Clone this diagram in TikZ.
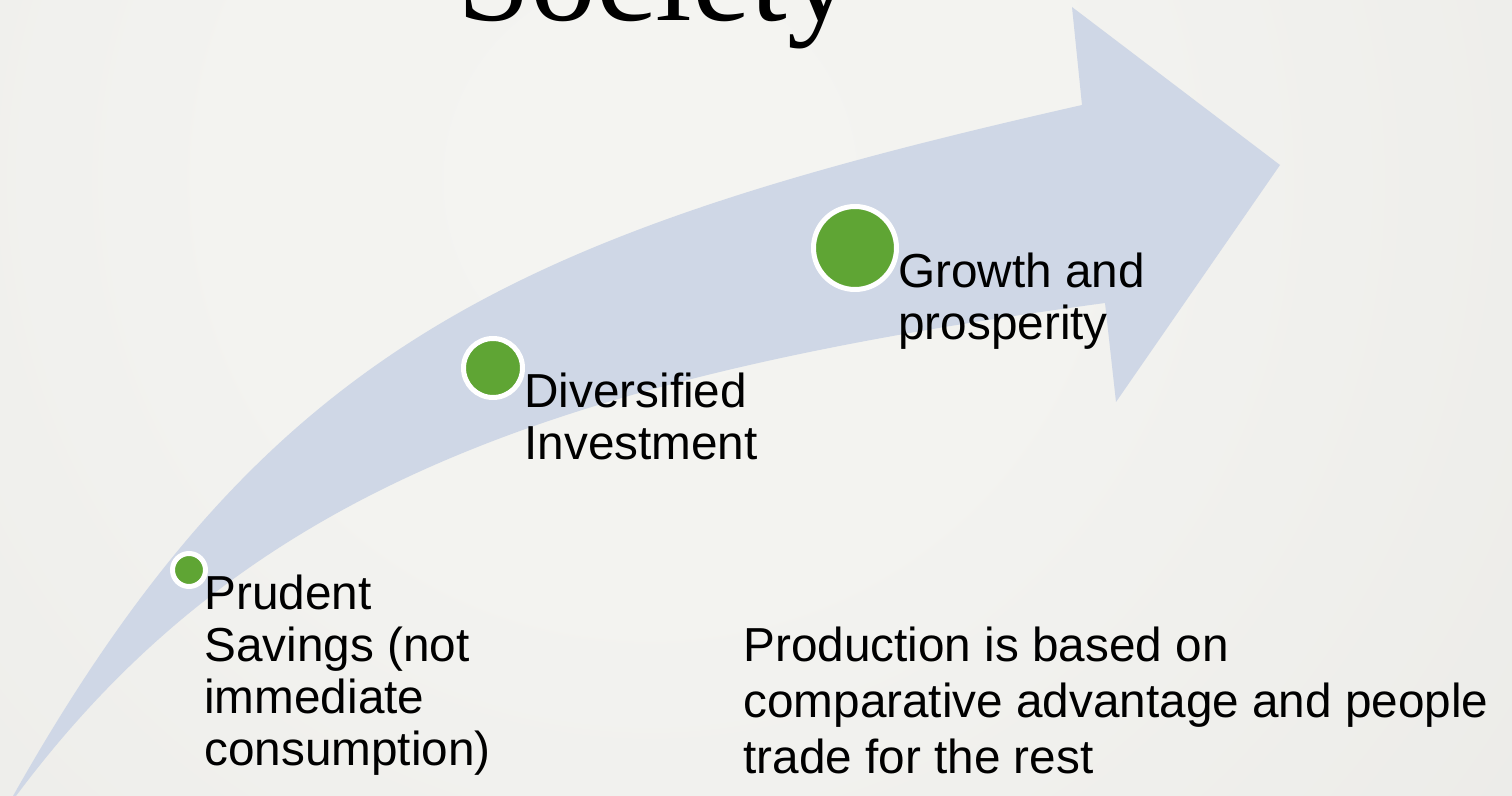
\documentclass[tikz,border=0pt]{standalone}
\usepackage{fontspec}
\setmainfont{Liberation Sans}
\newfontfamily\titlefont{Liberation Serif}
\definecolor{arrowblue}{HTML}{CFD7E6}
\definecolor{dotgreen}{HTML}{5FA534}
\definecolor{bgcenter}{HTML}{F4F4F1}
\definecolor{bginner}{HTML}{F3F3F0}
\definecolor{bgedge}{HTML}{DCDBD7}
\pgfdeclareradialshading{slidebg}{\pgfpoint{0bp}{0bp}}{color(0bp)=(bgcenter); color(8bp)=(bginner); color(50bp)=(bgedge)}
\newcommand\stacklines[1]{\begin{tabular}[t]{@{}l@{}}#1\end{tabular}}
\tikzset{
  dot/.style={circle, fill=dotgreen, draw=white, line width=2.5pt, inner sep=0pt},
  txt/.style={anchor=base west, inner sep=0pt, text=black, font=\fontsize{23.85pt}{26pt}\selectfont},
  txtwide/.style={txt, font=\fontsize{23.85pt}{28pt}\selectfont}
}
\begin{document}
\begin{tikzpicture}[x=0.5pt, y=-0.5pt]
  \useasboundingbox (0,0) rectangle (1512,796);
  \clip (0,0) rectangle (1512,796);
  % slide background
  \shade[shading=slidebg] (650,180) circle (650pt);
  % curved progress arrow
  \fill[arrowblue] (13,796) .. controls (268,344) and (517,233) .. (1082,105)
    -- (1072,7) -- (1280,165) -- (1116,402) -- (1105,303)
    .. controls (550,378) and (243,492) .. (16,796) -- cycle;
  % title, cut off at the top edge
  \node[anchor=base west, inner sep=0pt, font=\titlefont\fontsize{66pt}{72pt}\selectfont] (title) at (457,21) {Society};
  % milestones
  \node[dot, minimum size=16.5pt] (d1) at (189,570) {};
  \node[dot, minimum size=29.5pt] (d2) at (493,368) {};
  \node[dot, minimum size=41.5pt] (d3) at (855,248) {};
  \node[txt] (t1) at (204,610) {\stacklines{Prudent\\Savings (not\\immediate\\consumption)}};
  \node[txt] (t2) at (524,408) {\stacklines{Diversified\\Investment}};
  \node[txt] (t3) at (898,288) {\stacklines{Growth and\\prosperity}};
  \node[txtwide] (note) at (743,662) {\stacklines{Production is based on\\comparative advantage and people\\trade for the rest}};
\end{tikzpicture}
\end{document}
